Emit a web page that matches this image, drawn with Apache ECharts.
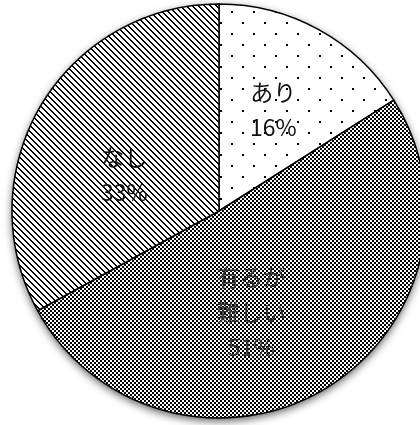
<!DOCTYPE html>
<html>
<head>
<meta charset="utf-8">
<style>
  html, body { margin: 0; padding: 0; background: #fff; }
  #chart { width: 420px; height: 425px; }
</style>
<script src="https://cdn.jsdelivr.net/npm/echarts@6/dist/echarts.min.js"></script>
</head>
<body>
<div id="chart"></div>
<script>
// Survey answers, in percent, clockwise from 12 o'clock
const categories = ['あり', '有るが\n難しい', 'なし'];
const values = [16, 51, 33];

// Monochrome hatch fills, drawn into small repeating tiles
function tile(size, draw) {
  const c = document.createElement('canvas');
  c.width = size; c.height = size;
  const g = c.getContext('2d');
  g.fillStyle = '#fff';
  g.fillRect(0, 0, size, size);
  g.fillStyle = '#000';
  draw(g, size);
  return { image: c, repeat: 'repeat' };
}
const dots = tile(22, (g) => {
  g.fillRect(0, 0, 2, 2);
  g.fillRect(11, 11, 2, 2);
});
const checker = tile(4, (g) => {
  g.fillRect(0, 0, 2, 2);
  g.fillRect(2, 2, 2, 2);
});
// "\" stripes, two pixels wide
const diagonal = tile(6, (g, n) => {
  for (let i = 0; i < n; i++) {
    g.fillRect(i, i, 1, 1);
    g.fillRect((i + 1) % n, i, 1, 1);
  }
});
const fills = [dots, checker, diagonal];
const labelOffsets = [[3, -8], [-22, 10], [-3, 18]];

const chart = echarts.init(document.getElementById('chart'), null, { renderer: 'canvas' });
chart.setOption({
  backgroundColor: '#fff',
  animation: false,
  series: [
    {
      // soft drop shadow under the whole disc
      type: 'pie',
      silent: true,
      center: [219, 211],
      radius: 207,
      label: { show: false },
      itemStyle: {
        color: '#fff',
        shadowColor: 'rgba(0,0,0,0.65)',
        shadowBlur: 9,
        shadowOffsetY: 3
      },
      data: [{ value: 1, name: '' }]
    },
    {
      type: 'pie',
      center: [219, 211],
      radius: 207,
      startAngle: 90,
      clockwise: true,
      silent: true,
      itemStyle: { borderColor: '#000', borderWidth: 1.5 },
      label: {
        show: true,
        position: 'inside',
        formatter: (p) => p.name + '\n' + p.value + '%',
        fontFamily: '"Noto Sans CJK JP", sans-serif',
        fontWeight: 'normal',
        fontSize: 23,
        lineHeight: 35,
        color: '#111',
        textBorderWidth: 0,
        textShadowBlur: 0,
        align: 'center'
      },
      labelLine: { show: false },
      data: categories.map((name, i) => ({
        name: name,
        value: values[i],
        itemStyle: { color: fills[i] },
        label: { offset: labelOffsets[i], color: i === 1 ? '#333' : '#111' }
      }))
    }
  ]
});
</script>
</body>
</html>
